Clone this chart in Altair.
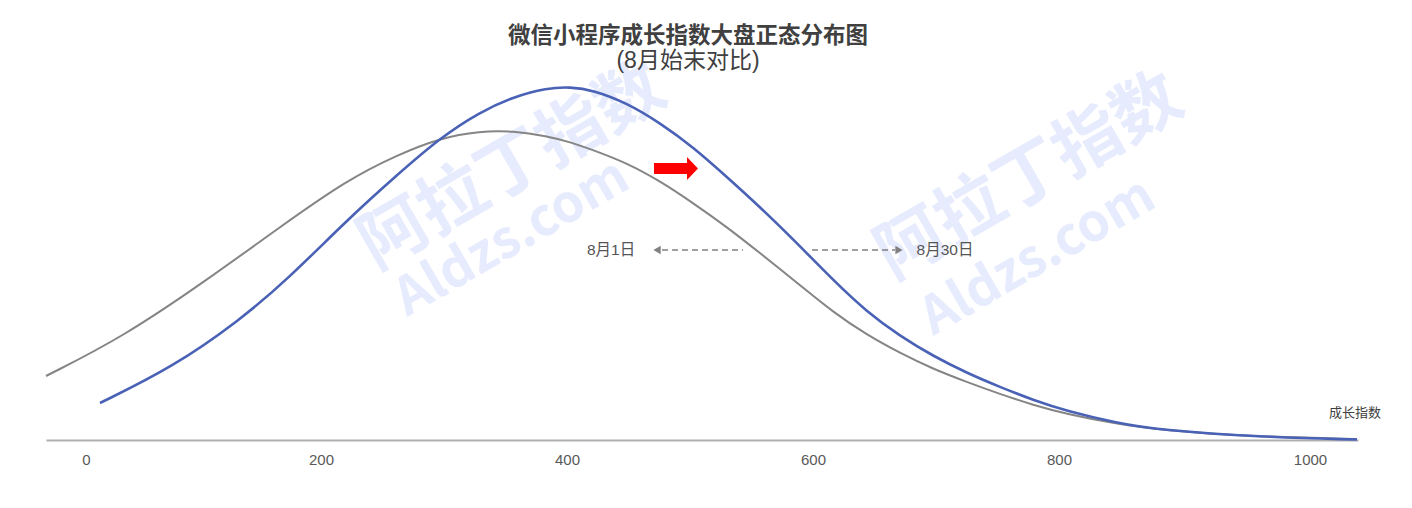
import altair as alt
import pandas as pd

# ---- data ----
gray_x = [-23.6, 39.0, 107.3, 166.6, 221.2, 261.8, 296.7, 329.2, 356.1, 383.8, 402.5, 421.2,
          448.7, 475.6, 502.5, 530.0, 556.9, 589.4, 616.2, 643.9, 670.7, 697.6, 725.1, 752.0,
          778.9, 806.4, 847.1, 882.0, 963.3, 1042.3]
gray_y = [64, 103, 160, 213, 260, 285, 302, 309, 309, 304, 298, 290,
          277, 259, 237, 213, 187, 155, 128, 105, 87, 71, 58, 46,
          35, 26, 16, 10, 3, 1]
blue_x = [20.3, 79.7, 134.1, 172.3, 221.2, 261.8, 296.7, 329.2, 356.1, 383.8, 402.5, 421.2,
          448.7, 475.6, 502.5, 530.0, 556.9, 586.9, 616.2, 643.9, 670.7, 697.6, 725.1, 752.0,
          778.9, 806.4, 847.1, 882.0, 963.3, 1042.3]
blue_y = [37, 73, 120, 160, 220, 265, 302, 328, 343, 352, 353, 350,
          337, 317, 293, 263, 233, 197, 160, 128, 104, 84, 67, 53,
          40, 29, 17, 10, 3, 0.5]
series_names = ["8月1日", "8月30日"]
series_colors = ["#858585", "#4a62b6"]

x_ticks = [0, 200, 400, 600, 800, 1000]
x_domain = [-23.6, 1043.1]
y_domain = [0, 360]

title_text = "微信小程序成长指数大盘正态分布图"
subtitle_text = "(8月始末对比)"
axis_name = "成长指数"

# annotations (data units)
ann_text = ["8月1日", "8月30日"]
ann_x = [435.8, 707.3]
ann_y = [190, 190]
dash_x1 = [477.2, 599.2]
dash_x2 = [543.1, 666.7]
head_left_x = [473.2]
head_right_x = [669.9]
red_arrow_x = [488.6]
red_arrow_y = [271.5]

wm_cn_x = [356.1, 776.4]
wm_cn_y = [272, 262]
wm_en_x = [355.3, 782.9]
wm_en_y = [202, 183]

FONT = "Liberation Sans, Noto Sans CJK SC, sans-serif"

gray_df = pd.DataFrame({"x": gray_x, "y": gray_y, "s": series_names[0]})
blue_df = pd.DataFrame({"x": blue_x, "y": blue_y, "s": series_names[1]})
ann_df = pd.DataFrame({"t": ann_text, "x": ann_x, "y": ann_y})
dash_df = pd.DataFrame({"x": dash_x1, "x2": dash_x2, "y": ann_y})
hl_df = pd.DataFrame({"x": head_left_x, "y": [ann_y[0]]})
hr_df = pd.DataFrame({"x": head_right_x, "y": [ann_y[1]]})
red_df = pd.DataFrame({"x": red_arrow_x, "y": red_arrow_y})
wm_cn_df = pd.DataFrame({"t": ["阿拉丁指数"] * 2, "x": wm_cn_x, "y": wm_cn_y})
wm_en_df = pd.DataFrame({"t": ["Aldzs.com"] * 2, "x": wm_en_x, "y": wm_en_y})
name_df = pd.DataFrame({"t": [axis_name], "x": [1061.8], "y": [27]})

xs = alt.Scale(domain=x_domain, nice=False, zero=False)
ys = alt.Scale(domain=y_domain, nice=False)

x_axis = alt.Axis(
    values=x_ticks, title=None, grid=False, ticks=False, domain=True,
    domainColor="#b0b0b0", domainWidth=2, labelFont=FONT, labelFontSize=15,
    labelColor="#595959", labelPadding=12, format="d",
    labelOffset={"condition": [{"test": "datum.value == 0", "value": 11},
                               {"test": "datum.value == 1000", "value": 5}],
                 "value": 0},
)
X = alt.X("x:Q", scale=xs, axis=x_axis)
Y = alt.Y("y:Q", scale=ys, axis=None)

wm_cn = alt.Chart(wm_cn_df).mark_text(
    angle=330, font="Noto Sans CJK SC", fontWeight="bold", color="#e6ebfd",
    align="center", baseline="middle", fontSize=68
).encode(x=X, y=Y, text="t:N")
wm_en = alt.Chart(wm_en_df).mark_text(
    angle=330, font="Noto Sans CJK SC", fontWeight="bold", color="#e6ebfd",
    align="center", baseline="middle", fontSize=52
).encode(x=X, y=Y, text="t:N")

gray_line = alt.Chart(gray_df).mark_line(
    interpolate="basis", strokeWidth=2, color=series_colors[0]
).encode(x=X, y=Y)
blue_line = alt.Chart(blue_df).mark_line(
    interpolate="basis", strokeWidth=2.6, color=series_colors[1]
).encode(x=X, y=Y)

dashes = alt.Chart(dash_df).mark_rule(color="#808080", strokeWidth=1.5, strokeDash=[6, 4]).encode(
    x=X, x2="x2:Q", y=Y
)
head_l = alt.Chart(hl_df).mark_point(filled=True, color="#808080", size=70, opacity=1,
                                     shape="triangle-left").encode(x=X, y=Y)
head_r = alt.Chart(hr_df).mark_point(filled=True, color="#808080", size=70, opacity=1,
                                     shape="triangle-right").encode(x=X, y=Y)
ann = alt.Chart(ann_df).mark_text(font=FONT, fontSize=15.5, color="#555555",
                                  align="center", baseline="middle").encode(x=X, y=Y, text="t:N")
red = alt.Chart(red_df).mark_point(
    filled=True, color="#ff0000", opacity=1, size=1936,
    shape="M-1,-0.25 L0.5,-0.25 L0.5,-0.52 L1,0 L0.5,0.52 L0.5,0.25 L-1,0.25 Z",
).encode(x=X, y=Y)
name = alt.Chart(name_df).mark_text(font=FONT, fontSize=13, color="#404040",
                                    align="right", baseline="middle").encode(x=X, y=Y, text="t:N")

chart = alt.layer(wm_cn, wm_en, gray_line, blue_line, dashes, head_l, head_r, ann, red, name).properties(
    width=1312, height=360,
    title=alt.TitleParams(
        text=title_text, subtitle=subtitle_text, anchor="middle", dx=-14, dy=27,
        font=FONT, fontSize=22.5, fontWeight="bold", color="#404040",
        subtitleFont=FONT, subtitleFontSize=23, subtitleColor="#404040",
        subtitlePadding=2, offset=8,
    ),
    padding={"left": 38, "top": 72, "right": 40, "bottom": 40},
    autosize=alt.AutoSizeParams(type="none"),
).configure_view(stroke=None)

chart.save("out.html", embed_options={"renderer": "svg", "actions": False})
